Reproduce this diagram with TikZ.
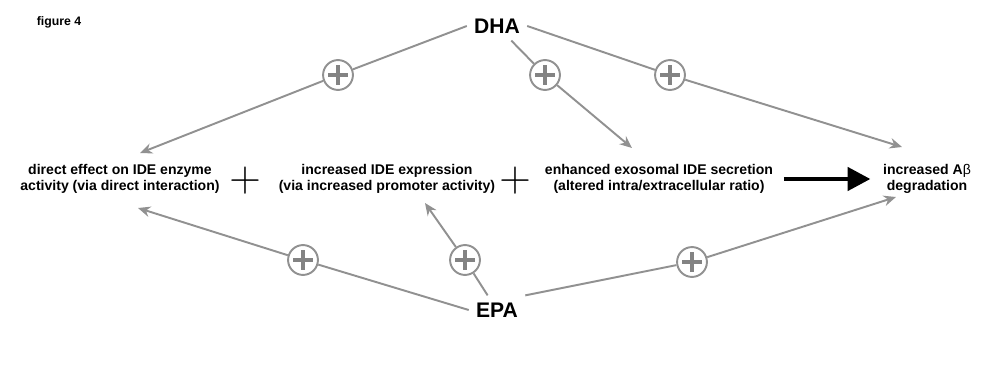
\documentclass[tikz,border=0pt]{standalone}
\usepackage{fontspec}
\setmainfont{Liberation Sans}
\usetikzlibrary{arrows.meta}

\begin{document}
\begin{tikzpicture}[x = 0.02cm, y = -0.02cm]
	% Fix the frame of the picture
	\useasboundingbox (0, 0) rectangle (997, 392);

	% Colours and styles
	\definecolor{linegray}{RGB}{145,145,145}
	\tikzset{effect/.style = {font = \bfseries\fontsize{8}{9}\selectfont, align = center, inner sep = 1pt},
		acid/.style = {font = \bfseries\fontsize{12}{14}\selectfont, inner sep = 4pt},
		gray arrow/.style = {-{Stealth[length = 7pt, width = 6pt]}, draw = linegray, line width = 1.1pt},
		plus circle/.style = {circle, draw = linegray, line width = 1.1pt, fill = white, minimum size = 17pt, inner sep = 0pt,
			path picture = {\draw[linegray!90!black, line width = 1.9pt]
				([xshift = -5.5pt]path picture bounding box.center) -- ([xshift = 5.5pt]path picture bounding box.center)
				([yshift = -5.5pt]path picture bounding box.center) -- ([yshift = 5.5pt]path picture bounding box.center);}}}

	% Title and the two acids
	\node[font = \bfseries\fontsize{7}{8}\selectfont] (fig) at (59, 22) {figure 4};
	\node[acid] (dha) at (497, 26) {DHA};
	\node[acid] (epa) at (497, 310) {EPA};

	% The row of effects
	\node[effect] (direct) at (120, 179) {direct effect on IDE enzyme\\activity (via direct interaction)};
	\node[effect] (expr) at (387, 179) {increased IDE expression\\(via increased promoter activity)};
	\node[effect] (secr) at (659, 179) {enhanced exosomal IDE secretion\\(altered intra/extracellular ratio)};
	\node[effect] (degr) at (927, 179) {increased A\textmd{β}\\degradation};
	\node[font = \fontsize{23}{23}\selectfont] (plusA) at (245, 181) {$+$};
	\node[font = \fontsize{23}{23}\selectfont] (plusB) at (515, 181) {$+$};

	% Arrow tips and the plus circles
	\coordinate (tipA) at (140, 153);
	\coordinate (tipB) at (632, 148);
	\coordinate (tipC) at (902, 147);
	\coordinate (tipD) at (138, 208);
	\coordinate (tipE) at (425, 203);
	\coordinate (tipF) at (896, 197);
	\node[plus circle] (pA) at (338, 75) {};
	\node[plus circle] (pB) at (545, 75) {};
	\node[plus circle] (pC) at (670, 75) {};
	\node[plus circle] (pD) at (303, 260) {};
	\node[plus circle] (pE) at (465, 260) {};
	\node[plus circle] (pF) at (692, 262) {};

	% Gray arrows from DHA and EPA
	\draw[gray arrow] (dha.west) -- (pA) -- (tipA);
	\draw[gray arrow] (dha) -- (pB) -- (tipB);
	\draw[gray arrow] (dha.east) -- (pC) -- (tipC);
	\draw[gray arrow] (epa.west) -- (pD) -- (tipD);
	\draw[gray arrow] (epa) -- (pE) -- (tipE);
	\draw[gray arrow] (epa.north east) -- (pF) -- (tipF);

	% Black arrow to the degradation
	\draw[-{Triangle[length = 13pt, width = 13pt]}, line width = 2.8pt, shorten < = 5pt, shorten > = 6pt] (secr.east) -- (degr.west);
\end{tikzpicture}
\end{document}
